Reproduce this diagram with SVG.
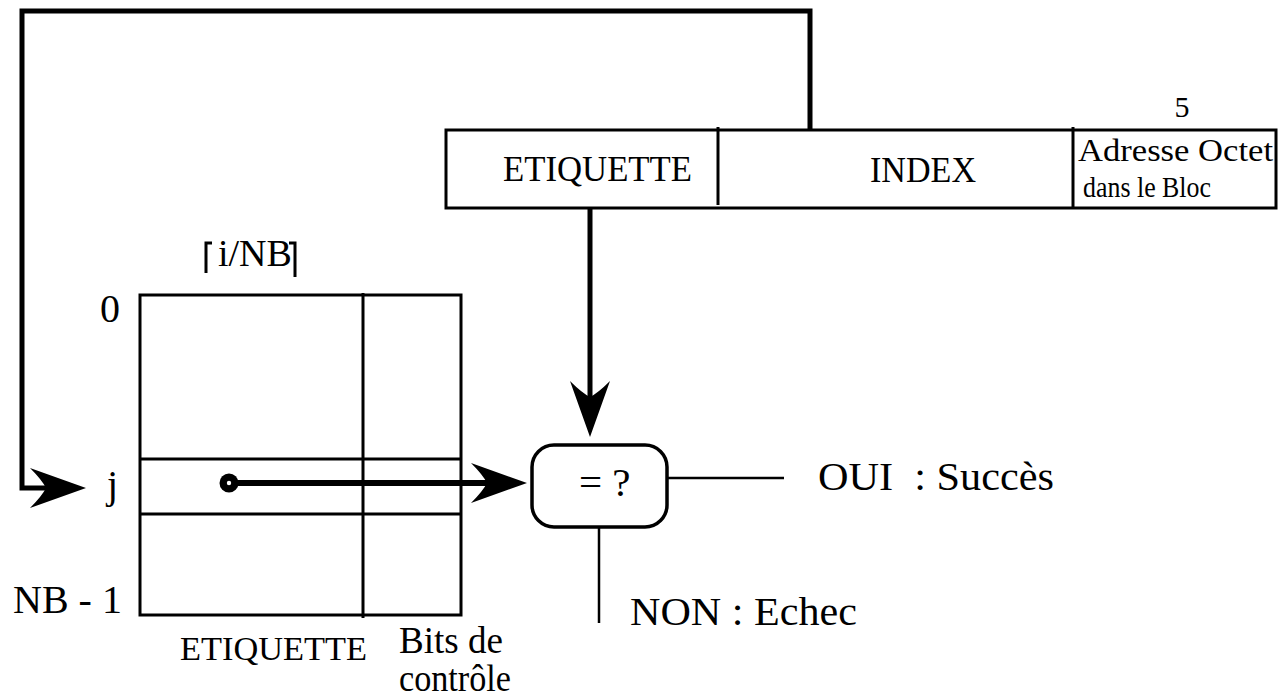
<svg xmlns="http://www.w3.org/2000/svg" width="1280" height="699" viewBox="0 0 1280 699">
  <style>
    text { font-family: "Liberation Serif", "Times New Roman", serif; fill: #000; }
    .box { fill: #fff; stroke: #000; stroke-width: 3; }
    .rule { stroke: #000; stroke-width: 3; fill: none; }
    .thin { stroke: #000; stroke-width: 2.5; fill: none; }
    .heavy { stroke: #000; stroke-width: 5; fill: none; stroke-linejoin: miter; }
    .shaft { stroke: #000; stroke-width: 6; fill: none; }
  </style>
  <defs>
    <!-- barbed arrowhead, tip at (0,0); lines end at the notch (-40,0) -->
    <marker id="barb" viewBox="-60 -24 62 48" markerWidth="62" markerHeight="48" refX="-40" refY="0" orient="auto" markerUnits="userSpaceOnUse">
      <path d="M0,0 L-56,-20 Q-44,-8 -40,0 Q-44,8 -56,20 Z" fill="#000"/>
    </marker>
  </defs>

  <rect width="1280" height="699" fill="#fff"/>

  <!-- address word: tag / index / byte offset -->
  <g id="address">
    <rect class="box" x="446" y="130" width="830" height="78"/>
    <line class="rule" x1="718" y1="127" x2="718" y2="205"/>
    <line class="rule" x1="1073" y1="127" x2="1073" y2="208"/>
    <text x="503" y="181" font-size="35" textLength="189" lengthAdjust="spacingAndGlyphs">ETIQUETTE</text>
    <text x="870" y="182" font-size="35" textLength="106" lengthAdjust="spacingAndGlyphs">INDEX</text>
    <text x="1182" y="117" font-size="30" text-anchor="middle">5</text>
    <text x="1078" y="161" font-size="31" textLength="195" lengthAdjust="spacingAndGlyphs">Adresse Octet</text>
    <text x="1083" y="197" font-size="29" textLength="128" lengthAdjust="spacingAndGlyphs">dans le Bloc</text>
  </g>

  <!-- cache directory: NB lines, tag + control bits -->
  <g id="directory">
    <rect class="box" x="140" y="295" width="321" height="320"/>
    <line class="rule" x1="140" y1="459" x2="461" y2="459"/>
    <line class="rule" x1="140" y1="514" x2="461" y2="514"/>
    <line class="rule" x1="363" y1="293" x2="363" y2="618"/>
    <text x="100" y="322" font-size="40">0</text>
    <text x="107" y="498" font-size="40">j</text>
    <text x="13" y="613" font-size="40">NB - 1</text>
    <text x="180" y="660" font-size="34" textLength="187" lengthAdjust="spacingAndGlyphs">ETIQUETTE</text>
    <text x="399" y="653" font-size="37" textLength="104" lengthAdjust="spacingAndGlyphs">Bits de</text>
    <text x="399" y="691" font-size="37" textLength="112" lengthAdjust="spacingAndGlyphs">contrôle</text>
  </g>

  <!-- line number: ceiling of i/NB -->
  <g id="ceiling">
    <path class="rule" d="M212,243 H206 V273"/>
    <path class="rule" d="M289,243 H295 V277"/>
    <text x="218" y="266" font-size="38">i/NB</text>
  </g>

  <!-- tag comparator -->
  <g id="compare">
    <rect x="532" y="445" width="135" height="82" rx="22" ry="22" fill="#fff" stroke="#000" stroke-width="3.5"/>
    <text x="579" y="496" font-size="41">= ?</text>
  </g>

  <g id="outcomes">
    <text x="818" y="490" font-size="41" xml:space="preserve" textLength="236" lengthAdjust="spacingAndGlyphs">OUI  : Succès</text>
    <text x="630" y="625" font-size="41" textLength="227" lengthAdjust="spacingAndGlyphs">NON : Echec</text>
  </g>

  <g id="connectors">
    <!-- index field selects line j -->
    <path class="heavy" d="M810,130 V11 H22 V488 H46" marker-end="url(#barb)"/>
    <!-- tag field down to comparator -->
    <path class="heavy" d="M590,208 V397" marker-end="url(#barb)"/>
    <!-- stored tag of line j to comparator -->
    <path class="shaft" d="M229,483 H487" marker-end="url(#barb)"/>
    <circle cx="229" cy="483" r="9.5" fill="#000"/>
    <circle cx="229" cy="483" r="2.2" fill="#fff"/>
    <!-- results -->
    <line class="thin" x1="667" y1="478" x2="784" y2="478"/>
    <line class="thin" x1="599" y1="527" x2="599" y2="623"/>
  </g>
</svg>
